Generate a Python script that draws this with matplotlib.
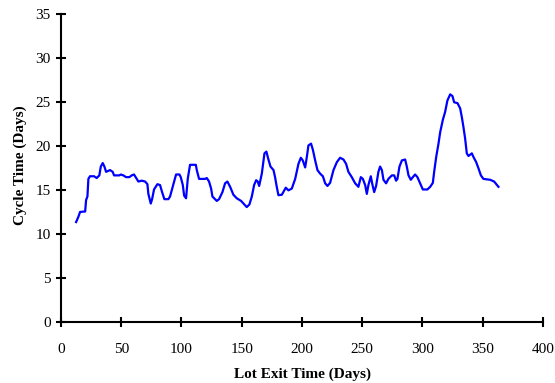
import matplotlib
matplotlib.use('Agg')
import matplotlib.pyplot as plt

plt.rcParams['font.family'] = ['Liberation Serif', 'DejaVu Serif']

# lot exit time (days) and cycle time (days)
exit_days = [12.5, 14.4, 15.8, 20.0, 20.8, 21.9, 22.7, 24.0, 27.4, 29.6, 31.8, 33.0, 34.6, 36.0,
             37.4, 40.7, 42.9, 44.0, 48.4, 49.6, 51.7, 54.0, 56.7, 58.7, 60.6, 62.9, 64.2, 67.0,
             69.8, 71.7, 72.5, 74.5, 75.6, 77.2, 80.0, 82.2, 83.9, 85.8, 89.1, 90.5, 91.9, 93.9,
             95.5, 98.3, 99.4, 101.1, 102.2, 103.8, 105.2, 107.1, 111.9, 112.7, 114.6, 119.6,
             121.0, 122.9, 124.6, 125.7, 129.3, 131.2, 134.0, 136.2, 138.1, 140.4, 143.1, 145.9,
             149.5, 152.2, 154.2, 156.4, 158.4, 160.3, 162.0, 163.3, 164.5, 166.7, 168.9, 170.5,
             172.2, 173.9, 176.4, 177.7, 179.1, 180.5, 183.3, 186.6, 188.8, 191.6, 194.4, 197.1,
             199.1, 200.7, 202.7, 204.1, 205.4, 207.6, 209.1, 211.0, 212.9, 215.1, 217.4, 219.3,
             221.2, 223.4, 226.2, 229.0, 231.7, 234.5, 236.7, 238.6, 241.4, 244.2, 246.9, 248.9,
             250.6, 252.5, 253.9, 255.2, 257.2, 258.3, 260.0, 261.6, 263.5, 264.9, 266.4, 267.7,
             269.9, 271.8, 274.7, 276.6, 278.2, 279.3, 281.0, 283.0, 285.7, 287.1, 288.5, 290.4,
             292.1, 294.0, 295.9, 298.2, 300.4, 304.2, 306.5, 308.7, 309.8, 311.5, 313.4, 314.8,
             317.0, 318.9, 320.8, 323.1, 325.0, 326.4, 329.2, 331.4, 332.8, 334.1, 335.5, 336.9,
             338.3, 341.1, 342.4, 344.7, 346.6, 348.6, 350.7, 356.3, 359.6, 363.2]
cycle_days = [11.4, 12.0, 12.55, 12.6, 13.9, 14.3, 16.3, 16.6, 16.6, 16.4, 16.7, 17.7, 18.1, 17.7,
              17.1, 17.3, 17.1, 16.7, 16.7, 16.8, 16.7, 16.5, 16.5, 16.7, 16.8, 16.3, 16.0, 16.1,
              16.0, 15.7, 14.6, 13.5, 14.0, 15.1, 15.7, 15.6, 14.8, 14.0, 14.0, 14.3, 15.0, 16.0,
              16.8, 16.8, 16.5, 15.6, 14.4, 14.1, 16.3, 17.9, 17.9, 17.3, 16.3, 16.3,
              16.4, 16.0, 15.2, 14.3, 13.8, 14.0, 14.8, 15.8, 16.0, 15.4, 14.5, 14.1,
              13.8, 13.4, 13.1, 13.4, 14.3, 15.6, 16.15, 16.0, 15.5, 16.9, 19.2, 19.4,
              18.5, 17.7, 17.3, 16.5, 15.4, 14.45, 14.5, 15.3, 15.0, 15.2, 16.3, 18.0,
              18.7, 18.4, 17.6, 18.8, 20.1, 20.3, 19.6, 18.4, 17.3, 16.9, 16.6, 15.8,
              15.5, 15.85, 17.3, 18.2, 18.7, 18.5, 18.0, 17.1, 16.5, 15.8, 15.4, 16.5,
              16.3, 15.6, 14.6, 15.6, 16.6, 15.8, 14.8, 15.5, 17.1, 17.7, 17.3, 16.2,
              15.8, 16.3, 16.7, 16.7, 16.1, 16.3, 17.7, 18.4, 18.5, 17.7, 16.7, 16.2,
              16.5, 16.8, 16.5, 15.8, 15.1, 15.1, 15.4, 15.85, 17.1, 18.8, 20.3, 21.6,
              23.0, 23.9, 25.2, 25.9, 25.7, 25.0, 24.9, 24.3, 23.3, 22.2, 20.9, 19.2,
              18.9, 19.2, 18.8, 18.2, 17.5, 16.7, 16.3, 16.2, 16.0, 15.4]

fig = plt.figure(figsize=(5.55, 3.83), dpi=100)
ax = fig.add_axes([0.110, 0.158, 0.868, 0.805])

ax.plot(exit_days, cycle_days, color='#0000ff', linewidth=1.6)

ax.set_xlim(0, 400)
ax.set_ylim(0, 35)
ax.set_xticks(range(0, 401, 50))
ax.set_yticks(range(0, 36, 5))

for s in ['top', 'right']:
    ax.spines[s].set_visible(False)
for s in ['left', 'bottom']:
    ax.spines[s].set_linewidth(1.5)
    ax.spines[s].set_clip_on(False)

ax.tick_params(axis='both', direction='inout', length=7, width=1.5, labelsize=11, colors='black')
ax.tick_params(axis='x', pad=11)
ax.tick_params(axis='y', pad=4)
ax.set_clip_on(False)

fig.text(302 / 555, 1 - 378 / 383, 'Lot Exit Time (Days)', ha='center', va='baseline',
         fontsize=11, fontweight='bold')
fig.text(20 / 555, 1 - 165 / 383, 'Cycle Time (Days)', ha='center', va='center',
         rotation=90, fontsize=11, fontweight='bold')

fig.savefig('out.png', dpi=100)
